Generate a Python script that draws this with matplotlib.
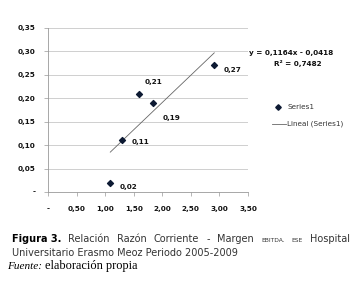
import matplotlib
matplotlib.use("Agg")
import numpy as np
import matplotlib.pyplot as plt

# razon corriente vs margen EBITDA, 2005-2009
x = [1.09, 1.30, 1.59, 1.84, 2.91]
y = [0.02, 0.11, 0.21, 0.19, 0.27]
labels = ["0,02", "0,11", "0,21", "0,19", "0,27"]
label_off = [(7, -3), (7, -1), (4, 8), (7, -11), (7, -3)]

slope, intercept = 0.1164, -0.0418
xticks = [0, 0.5, 1.0, 1.5, 2.0, 2.5, 3.0, 3.5]
yticks = [0, 0.05, 0.10, 0.15, 0.20, 0.25, 0.30, 0.35]


def fmt(v):
    return "-" if v == 0 else f"{v:.2f}".replace(".", ",")


fig = plt.figure(figsize=(3.59, 3.0), dpi=100)
ax = fig.add_axes([0.1337, 0.36, 0.557, 0.5467])

ax.set_xlim(0, 3.5)
ax.set_ylim(0, 0.35)
ax.set_xticks(xticks)
ax.set_yticks(yticks)
ax.set_xticklabels([fmt(v) for v in xticks], fontsize=5.2, color="#111111",
                   fontweight="semibold")
ax.set_yticklabels([fmt(v) for v in yticks], fontsize=5.2, color="#111111",
                   fontweight="semibold")
ax.tick_params(axis="x", length=3, width=0.5, color="#999999", pad=7)
ax.tick_params(axis="y", length=3, width=0.5, color="#999999", pad=6)
ax.grid(axis="y", color="#c8c8c8", linewidth=0.6)
ax.set_axisbelow(True)
for s in ["top", "right"]:
    ax.spines[s].set_visible(False)
ax.spines["left"].set_color("#999999")
ax.spines["bottom"].set_color("#999999")
ax.spines["left"].set_linewidth(0.6)
ax.spines["bottom"].set_linewidth(0.6)

xl = np.array([min(x), max(x)])
ax.plot(xl, slope * xl + intercept, color="#666666", linewidth=0.6, zorder=2)
ax.scatter(x, y, marker="D", s=9, color="#0d1a33", zorder=3)
for xi, yi, lb, off in zip(x, y, labels, label_off):
    ax.annotate(lb, (xi, yi), xytext=off, textcoords="offset points",
                fontsize=5.2, color="#111111", ha="left", va="center",
                fontweight="semibold")

# equation and legend
fig.text(0.811, 0.823, "y = 0,1164x - 0,0418", fontsize=5.2, ha="center",
         va="center", color="#111111", fontweight="semibold")
fig.text(0.83, 0.787, "R² = 0,7482", fontsize=5.2, ha="center",
         va="center", color="#111111", fontweight="semibold")
fig.add_artist(plt.Line2D([0.774], [0.642], marker="D", markersize=2.8,
                          color="#0d1a33", linestyle="none"))
fig.text(0.80, 0.642, "Series1", fontsize=5.2, va="center", color="#333333")
fig.add_artist(plt.Line2D([0.758, 0.797], [0.587, 0.587], color="#666666",
                          linewidth=0.6))
fig.text(0.80, 0.587, "Lineal (Series1)", fontsize=5.2, va="center",
         color="#333333")

# caption
renderer = fig.canvas.get_renderer()
W = fig.bbox.width


def width_of(t):
    return t.get_window_extent(renderer).width


def fit(t, target_px):
    # scale font so the text spans target_px
    t.set_fontsize(t.get_fontsize() * target_px / width_of(t))


line2 = fig.text(12 / W, 0.145, "Universitario Erasmo Meoz Periodo 2005-2009",
                 fontsize=8, family="DejaVu Sans", va="baseline",
                 color="#333333")
fit(line2, 227)
cap_size = line2.get_fontsize()

words = [("Figura 3.", 1.0, "bold"), ("Relación", 1.0, "normal"),
         ("Razón", 1.0, "normal"), ("Corriente", 1.0, "normal"),
         ("-", 1.0, "normal"), ("Margen", 1.0, "normal"),
         ("EBITDA.", 0.62, "normal"), ("ESE", 0.62, "normal"),
         ("Hospital", 1.0, "normal")]
items = []
for w, rel, weight in words:
    t = fig.text(0, 0.192, w, fontsize=cap_size * rel, fontweight=weight,
                 family="DejaVu Sans", va="baseline", color="#333333")
    items.append(t)
items[0].set_color("black")
widths = [width_of(t) for t in items]
gap = (350 - 12 - sum(widths)) / (len(items) - 1)
pos = 12
for t, wd in zip(items, widths):
    t.set_x(pos / W)
    pos += wd + gap

elab = fig.text(45 / W, 0.103, "elaboración propia", fontsize=8,
                family="Liberation Serif", va="baseline")
fit(elab, 93)
fuente = fig.text(42 / W, 0.103, "Fuente:", fontsize=elab.get_fontsize() * 0.9,
                  family="Liberation Serif", style="italic", va="baseline",
                  ha="right")

fig.savefig("out.png", dpi=100)
